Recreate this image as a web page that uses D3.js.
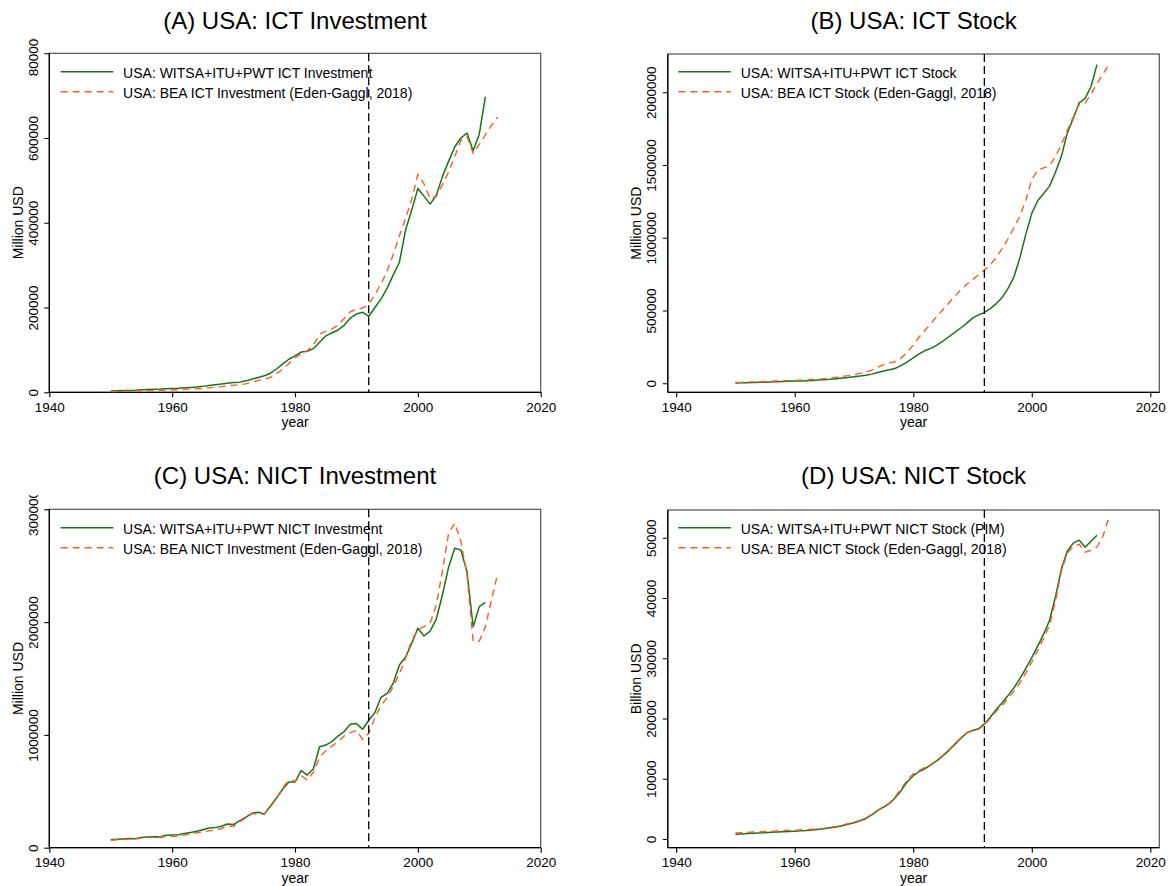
<!DOCTYPE html>
<html><head><meta charset="utf-8">
<script src="https://cdn.jsdelivr.net/npm/d3@7"></script>
<style>
body{margin:0;background:#fff}
text{font-family:"Liberation Sans",Arial,Helvetica,sans-serif;fill:#000}
</style>
</head><body>
<svg id="chart" width="1170" height="886"></svg>
<script>
// ---------- DATA ----------
const witsaStart = 1950, witsaEnd = 2011;
const beaStart = 1950, beaEnd = 2013;
const xTicks = [1940, 1960, 1980, 2000, 2020];
const breakYear = 1992;

const titles = ["(A) USA: ICT Investment", "(B) USA: ICT Stock", "(C) USA: NICT Investment", "(D) USA: NICT Stock"];
const yTitles = ["Million USD", "Million USD", "Million USD", "Billion USD"];
const legendWitsa = ["USA: WITSA+ITU+PWT ICT Investment", "USA: WITSA+ITU+PWT ICT Stock", "USA: WITSA+ITU+PWT NICT Investment", "USA: WITSA+ITU+PWT NICT Stock (PIM)"];
const legendBea = ["USA: BEA ICT Investment (Eden-Gaggl, 2018)", "USA: BEA ICT Stock (Eden-Gaggl, 2018)", "USA: BEA NICT Investment (Eden-Gaggl, 2018)", "USA: BEA NICT Stock (Eden-Gaggl, 2018)"];

const yTicksA = [0, 200000, 400000, 600000, 800000];
const yTicksB = [0, 500000, 1000000, 1500000, 2000000];
const yTicksC = [0, 1000000, 2000000, 3000000];
const yTicksD = [0, 10000, 20000, 30000, 40000, 50000];

// (A) ICT investment, million USD
const ictInvWitsa = [3000,3500,4000,4500,5000,6000,6500,7000,7500,8500,
  9000,9500,10500,11500,12500,14000,16000,18000,19500,21500,
  23000,24000,27000,31000,35000,39000,45000,55000,67000,78000,
  86000,95000,97000,103000,118000,133000,140000,147000,158000,175000,
  185000,189000,179000,200000,220000,246000,277000,307000,383000,430000,
  481000,463000,444000,465000,509000,545000,579000,600000,612000,570000,
  609000,698000];
const ictInvBea = [1500,2000,2300,2600,3000,3500,4000,4500,4800,5200,
  5500,6000,6800,7500,8200,9000,10500,12000,13500,15000,
  17000,18000,20000,24000,28000,31000,35000,44000,55000,68000,
  81000,91000,98000,112000,137000,144000,149000,159000,174000,190000,
  196000,199000,208000,230000,256000,286000,325000,370000,410000,455000,
  514000,492000,456000,462000,490000,520000,556000,594000,604000,564000,
  585000,608000,630000,649000];

// (B) ICT stock, million USD
const ictStockWitsa = [2000,3000,4000,5000,6500,8000,9500,11000,12500,14000,
  15000,16500,18000,20000,22500,25000,28000,32000,36000,40000,
  45000,50000,56000,63000,74000,84000,93000,103000,123000,148000,
  175000,202000,225000,240000,262000,290000,320000,350000,380000,412000,
  448000,470000,485000,513000,548000,590000,652000,732000,865000,1025000,
  1168000,1255000,1305000,1355000,1450000,1560000,1720000,1820000,1928000,1958000,
  2040000,2190000];
const ictStockBea = [5000,6500,8000,9500,11000,12500,14000,15500,17000,18500,
  20000,22000,24000,26500,29000,32000,36000,41000,47000,53000,
  60000,68000,77000,90000,110000,128000,140000,150000,175000,215000,
  262000,318000,365000,412000,460000,505000,552000,598000,640000,680000,
  712000,745000,778000,815000,865000,925000,995000,1070000,1150000,1260000,
  1400000,1465000,1480000,1495000,1560000,1640000,1740000,1830000,1915000,1925000,
  1990000,2060000,2125000,2190000];

// (C) NICT investment, million USD
const nictInvWitsa = [70000,75000,78000,82000,80000,90000,95000,97000,95000,110000,
  112000,115000,125000,135000,145000,160000,175000,178000,190000,210000,
  205000,240000,270000,305000,315000,300000,370000,440000,520000,582000,
  582000,683000,644000,700000,895000,910000,940000,990000,1030000,1094000,
  1100000,1050000,1130000,1197000,1333000,1369000,1460000,1620000,1690000,1810000,
  1945000,1877000,1920000,2027000,2240000,2486000,2654000,2640000,2447000,1959000,
  2137000,2175000];
const nictInvBea = [65000,70000,73000,76000,78000,85000,90000,92000,90000,100000,
  100000,105000,112000,122000,132000,140000,150000,155000,170000,190000,
  190000,230000,265000,300000,300000,295000,360000,440000,530000,600000,
  590000,640000,600000,670000,800000,860000,900000,940000,990000,1020000,
  1040000,961000,1014000,1150000,1260000,1330000,1430000,1540000,1680000,1840000,
  1930000,1960000,1990000,2150000,2450000,2787000,2876000,2720000,2420000,1835000,
  1830000,1960000,2200000,2432000];

// (D) NICT stock, billion USD
const nictStockWitsa = [800,850,900,950,1000,1050,1100,1150,1200,1250,
  1300,1350,1400,1500,1600,1700,1850,2000,2200,2450,
  2700,3000,3400,4000,4700,5300,5900,6900,8100,9500,
  10500,11200,11700,12300,13000,13800,14700,15700,16700,17600,
  18000,18300,19100,20200,21500,22600,23800,25100,26600,28300,
  30100,32000,34000,36300,40200,44800,47800,49100,49600,48400,
  49400,50400];
const nictStockBea = [1000,1050,1100,1150,1200,1250,1300,1350,1400,1430,
  1450,1500,1550,1620,1700,1800,1950,2100,2300,2550,
  2800,3100,3500,4100,4800,5400,6000,7100,8400,9800,
  10800,11400,11900,12400,13100,13900,14800,15800,16800,17600,
  18000,18200,18900,20000,21200,22200,23300,24500,25900,27600,
  29400,31300,33300,35500,39500,44500,47400,48600,48900,47600,
  47900,48500,50200,53300];

// ---------- LAYOUT ----------
const panels = [
  {title: titles[0], yTitle: yTitles[0], lw: legendWitsa[0], lb: legendBea[0], witsa: ictInvWitsa, bea: ictInvBea, yTicks: yTicksA,
   frame: {l: 49.3, r: 540.7, t: 53.3, b: 392.3}, xr: [49.3, 540.7], yd: [0, 800000], yr: [392.3, 53.3], clipTop: 38, titleY: 29, legY: 71.7, legX: 60.7},
  {title: titles[1], yTitle: yTitles[1], lw: legendWitsa[1], lb: legendBea[1], witsa: ictStockWitsa, bea: ictStockBea, yTicks: yTicksB,
   frame: {l: 667.8, r: 1159.3, t: 54, b: 392.3}, xr: [676.2, 1150.3], yd: [0, 2000000], yr: [383.3, 92.3], clipTop: 38, titleY: 29, legY: 71.7, legX: 678.3},
  {title: titles[2], yTitle: yTitles[2], lw: legendWitsa[2], lb: legendBea[2], witsa: nictInvWitsa, bea: nictInvBea, yTicks: yTicksC,
   frame: {l: 49.3, r: 540.7, t: 509.3, b: 847.7}, xr: [49.3, 540.7], yd: [0, 3000000], yr: [847.7, 509.3], clipTop: 495, titleY: 483.5, legY: 527.7, legX: 60.7},
  {title: titles[3], yTitle: yTitles[3], lw: legendWitsa[3], lb: legendBea[3], witsa: nictStockWitsa, bea: nictStockBea, yTicks: yTicksD,
   frame: {l: 667.8, r: 1159.3, t: 510, b: 847.7}, xr: [676.2, 1150.3], yd: [0, 50000], yr: [839, 537.7], clipTop: 495, titleY: 483.5, legY: 527.7, legX: 678.3}
];

const GREEN = "#17741b", ORANGE = "#ff5a1f";
const svg = d3.select("#chart");
const defs = svg.append("defs");

panels.forEach((p, i) => {
  const f = p.frame;
  const x = d3.scaleLinear().domain([1940, 2020]).range(p.xr);
  const y = d3.scaleLinear().domain(p.yd).range(p.yr);

  defs.append("clipPath").attr("id", "clip" + i)
    .append("rect").attr("x", f.l - 60).attr("y", p.clipTop).attr("width", f.r - f.l + 80).attr("height", 450);
  const g = svg.append("g").attr("clip-path", `url(#clip${i})`);

  // title
  svg.append("text").attr("x", (f.l + f.r) / 2).attr("y", p.titleY)
    .attr("text-anchor", "middle").style("font-size", "24px").text(p.title);

  // frame
  g.append("rect").attr("x", f.l).attr("y", f.t).attr("width", f.r - f.l).attr("height", f.b - f.t)
    .attr("fill", "none").attr("stroke", "#444").attr("stroke-width", 1.1);

  // y axis
  const ya = g.append("g").attr("transform", `translate(${f.l},0)`)
    .call(d3.axisLeft(y).tickValues(p.yTicks).tickSize(5).tickSizeOuter(0).tickFormat(d3.format("d")));
  ya.select(".domain").remove();
  ya.selectAll(".tick line").attr("stroke", "#000").attr("stroke-width", 1.1);
  ya.selectAll(".tick text").attr("transform", "rotate(-90)").attr("x", 0).attr("y", -11.6).attr("dy", 0)
    .attr("text-anchor", "middle").style("font-size", "13.5px").style("font-family", '"Liberation Sans",Arial,sans-serif').attr("fill", "#000");
  g.append("line").attr("x1", f.l).attr("x2", f.l).attr("y1", f.t).attr("y2", f.b).attr("stroke", "#000").attr("stroke-width", 1.3);

  // x axis
  const xa = g.append("g").attr("transform", `translate(0,${f.b})`)
    .call(d3.axisBottom(x).tickValues(xTicks).tickSize(5).tickSizeOuter(0).tickFormat(d3.format("d")));
  xa.select(".domain").remove();
  xa.selectAll(".tick line").attr("stroke", "#000").attr("stroke-width", 1.1);
  xa.selectAll(".tick text").attr("y", 19.5).attr("dy", 0).style("font-size", "13.5px")
    .style("font-family", '"Liberation Sans",Arial,sans-serif').attr("fill", "#000");
  g.append("line").attr("x1", f.l).attr("x2", f.r).attr("y1", f.b).attr("y2", f.b).attr("stroke", "#000").attr("stroke-width", 1.3);

  // axis titles
  g.append("text").attr("transform", `translate(${f.l - 26.5},${(f.t + f.b) / 2}) rotate(-90)`)
    .attr("text-anchor", "middle").style("font-size", "14px").text(p.yTitle);
  g.append("text").attr("x", (f.l + f.r) / 2).attr("y", f.b + 35)
    .attr("text-anchor", "middle").style("font-size", "14px").text("year");

  // series
  const line = d3.line().x(d => x(d[0])).y(d => y(d[1]));
  const wData = p.witsa.map((v, k) => [witsaStart + k, v]);
  const bData = p.bea.map((v, k) => [beaStart + k, v]);
  g.append("path").datum(wData).attr("d", line).attr("fill", "none")
    .attr("stroke", GREEN).attr("stroke-width", 1.5).attr("stroke-linejoin", "round");
  g.append("path").datum(bData).attr("d", line).attr("fill", "none")
    .attr("stroke", ORANGE).attr("stroke-width", 1.4).attr("stroke-dasharray", "7,5");

  // legend
  const lg = g.append("g");
  lg.append("line").attr("x1", p.legX).attr("x2", p.legX + 52.6).attr("y1", p.legY).attr("y2", p.legY)
    .attr("stroke", GREEN).attr("stroke-width", 1.5);
  lg.append("line").attr("x1", p.legX).attr("x2", p.legX + 52.6).attr("y1", p.legY + 20).attr("y2", p.legY + 20)
    .attr("stroke", ORANGE).attr("stroke-width", 1.4).attr("stroke-dasharray", "7,5");
  lg.append("text").attr("x", p.legX + 62.4).attr("y", p.legY + 6.6).style("font-size", "14px").text(p.lw);
  lg.append("text").attr("x", p.legX + 62.4).attr("y", p.legY + 26.6).style("font-size", "14px").text(p.lb);

  // vertical dashed line at break year
  g.append("line").attr("x1", x(breakYear)).attr("x2", x(breakYear)).attr("y1", f.t).attr("y2", f.b)
    .attr("stroke", "#000").attr("stroke-width", 1.3).attr("stroke-dasharray", "8,4");
});
</script>
</body></html>
